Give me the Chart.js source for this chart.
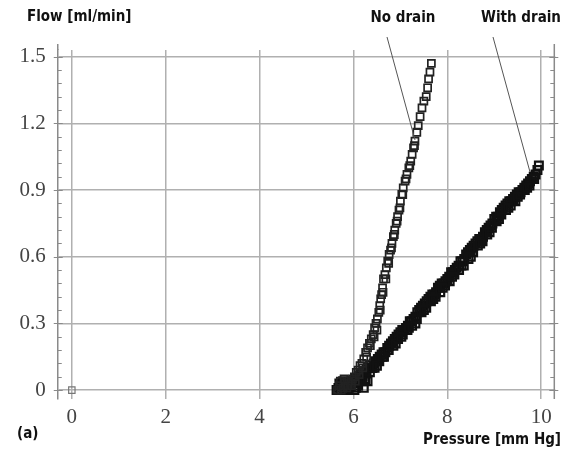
<!DOCTYPE html>
<html>
<head>
<meta charset="utf-8">
<script src="https://cdn.jsdelivr.net/npm/chart.js@4/dist/chart.umd.min.js"></script>
<style>
html,body{margin:0;padding:0;background:#fff;}
#wrap{width:563px;height:456px;position:relative;}
</style>
</head>
<body>
<div id="wrap"><canvas id="c" width="563" height="456"></canvas></div>
<script>
// ---- data ----
const xTicks = [0, 2, 4, 6, 8, 10];
const yTicks = [0, 0.3, 0.6, 0.9, 1.2, 1.5];
const yTickLabels = ['0', '0.3', '0.6', '0.9', '1.2', '1.5'];

const originX = [0];
const originY = [0];

const noDrainX = [5.66,5.7,5.74,5.78,5.82,5.86,5.9,5.94,5.98,6.02,6.06,6.1,6.14,6.18,6.22,6.26,6.3,6.34,6.38,6.42,6.45,6.48,6.51,6.54,6.56,6.58,6.6,6.62,6.64,6.67,6.7,6.73,6.76,6.79,6.82,6.85,6.88,6.91,6.94,6.97,7.0,7.03,7.06,7.1,7.14,7.18,7.22,7.25,7.28,7.31,7.35,7.38,7.42,7.46,7.5,7.55,7.58,7.6,7.63,7.66,
  5.72,5.8,5.88,5.96,6.04,6.12,6.2,6.28,6.36,6.44,6.5,6.57,6.63,6.69,6.75,6.81,6.87,6.93,6.99,7.05,7.12,7.2,7.3];
const noDrainY = [0.0,0.02,0.0,0.01,0.03,0.01,0.04,0.03,0.05,0.06,0.08,0.09,0.11,0.12,0.14,0.17,0.19,0.21,0.23,0.25,0.28,0.3,0.32,0.35,0.38,0.41,0.43,0.46,0.5,0.52,0.55,0.58,0.61,0.63,0.66,0.69,0.72,0.75,0.78,0.81,0.85,0.88,0.91,0.94,0.97,1.0,1.03,1.06,1.09,1.12,1.16,1.19,1.23,1.27,1.3,1.32,1.36,1.4,1.43,1.47,
  0.04,0.05,0.02,0.02,0.04,0.07,0.1,0.15,0.2,0.24,0.27,0.36,0.44,0.5,0.57,0.64,0.7,0.76,0.82,0.88,0.95,1.01,1.1];

const withDrainX = [5.64,5.68,5.72,5.76,5.8,5.84,5.88,5.92,5.96,6.0,6.04,6.08,6.12,6.16,6.2,6.24,6.28,6.32,6.36,6.4,6.44,6.48,6.52,6.56,6.6,6.64,6.68,6.72,6.76,6.8,6.84,6.88,6.92,6.96,7.0,7.04,7.08,7.12,7.16,7.2,7.24,7.28,7.32,7.36,7.4,7.44,7.48,7.52,7.56,7.6,7.64,7.68,7.72,7.76,7.8,7.84,7.88,7.92,7.96,8.0,8.04,8.08,8.12,8.16,8.2,8.24,8.28,8.32,8.36,8.4,8.44,8.48,8.52,8.56,8.6,8.64,8.68,8.72,8.76,8.8,8.84,8.88,8.92,8.96,9.0,9.04,9.08,9.12,9.16,9.2,9.24,9.28,9.32,9.36,9.4,9.44,9.48,9.52,9.56,9.6,9.64,9.68,9.72,9.76,9.8,9.84,9.88,9.92,9.95,
  5.75,5.85,5.95,6.05,6.15,6.25,6.35,6.45,6.55,6.65,6.75,6.85,6.95,7.05,7.15,7.25,7.35,7.45,7.55,7.65,7.75,7.85,7.95,8.05,8.15,8.25,8.35,8.45,8.55,8.65,8.75,8.85,8.95,9.05,9.15,9.25,9.35,9.45,9.55,9.65,9.75,9.85,
  5.7,5.78,5.9,6.02,6.1,6.22,6.3,6.18,6.4,6.5,6.62,6.74,6.9,7.02,7.18,7.32,7.5,7.7,7.9,8.1,8.3,8.5,8.7,8.9,9.1,9.3,9.5,9.7];
const withDrainY = [0.0,0.01,0.0,0.02,0.0,0.03,0.01,0.02,0.04,0.03,0.05,0.04,0.06,0.07,0.06,0.08,0.09,0.1,0.11,0.1,0.12,0.13,0.14,0.15,0.16,0.17,0.17,0.19,0.2,0.21,0.22,0.23,0.24,0.25,0.26,0.27,0.27,0.28,0.29,0.31,0.31,0.32,0.33,0.35,0.36,0.37,0.38,0.39,0.4,0.41,0.42,0.43,0.43,0.44,0.46,0.47,0.48,0.48,0.49,0.5,0.51,0.53,0.53,0.54,0.55,0.56,0.58,0.58,0.59,0.61,0.62,0.63,0.64,0.65,0.66,0.67,0.68,0.68,0.69,0.71,0.72,0.73,0.74,0.75,0.77,0.78,0.78,0.8,0.81,0.82,0.83,0.84,0.85,0.85,0.86,0.87,0.88,0.89,0.89,0.9,0.91,0.92,0.93,0.94,0.95,0.96,0.97,0.99,1.01,
  0.03,0.0,0.02,0.01,0.05,0.05,0.08,0.1,0.13,0.15,0.18,0.2,0.23,0.25,0.27,0.29,0.32,0.35,0.37,0.4,0.42,0.44,0.47,0.49,0.52,0.54,0.56,0.59,0.62,0.65,0.67,0.7,0.73,0.76,0.79,0.81,0.83,0.85,0.88,0.9,0.92,0.95,
  0.03,0.04,0.01,0.0,0.02,0.01,0.04,0.04,0.1,0.11,0.15,0.18,0.21,0.24,0.28,0.3,0.36,0.41,0.46,0.51,0.56,0.6,0.66,0.71,0.77,0.82,0.87,0.91];

function pts(xs, ys){ return xs.map((x,i)=>({x:x, y:ys[i]})); }

const frameColor = '#8a8a8a';
const gridColor = '#b0b0b0';

const decor = {
  id: 'decor',
  afterDraw(chart){
    const ctx = chart.ctx;
    const a = chart.chartArea;
    const ys = chart.scales.y;
    ctx.save();
    ctx.strokeStyle = frameColor;
    ctx.lineWidth = 1.5;
    ctx.beginPath();
    ctx.moveTo(a.right - 1, a.top - 6);
    ctx.lineTo(a.right - 1, a.bottom);
    ctx.stroke();
    ctx.beginPath();
    ctx.moveTo(a.left, a.top - 6);
    ctx.lineTo(a.left, a.top);
    ctx.stroke();
    ctx.lineWidth = 1;
    for (let v = 0; v <= 1.5001; v += 0.06) {
      const py = Math.round(ys.getPixelForValue(v)) + 0.5;
      const major = Math.abs(v / 0.3 - Math.round(v / 0.3)) < 1e-6;
      ctx.beginPath();
      if (major) {
        ctx.moveTo(a.left - 4, py); ctx.lineTo(a.left + 5, py);
        ctx.moveTo(a.right + 3, py); ctx.lineTo(a.right - 6, py);
      } else {
        ctx.moveTo(a.left, py); ctx.lineTo(a.left + 4, py);
        ctx.moveTo(a.right - 1, py); ctx.lineTo(a.right - 5, py);
      }
      ctx.stroke();
    }
    ctx.strokeStyle = '#555';
    ctx.lineWidth = 1;
    ctx.beginPath();
    ctx.moveTo(387, 37); ctx.lineTo(415, 140);
    ctx.moveTo(493, 37); ctx.lineTo(530, 172);
    ctx.stroke();
    ctx.fillStyle = '#111';
    ctx.textBaseline = 'middle';
    ctx.font = 'bold 15px "DejaVu Sans Condensed", "DejaVu Sans", sans-serif';
    ctx.textAlign = 'left';
    ctx.fillText('Flow [ml/min]', 27, 17);
    ctx.textAlign = 'center';
    ctx.fillText('No drain', 403, 18);
    ctx.fillText('With drain', 521, 18);
    ctx.textAlign = 'right';
    ctx.fillText('Pressure [mm Hg]', 561, 440);
    ctx.textAlign = 'left';
    ctx.fillText('(a)', 17, 434);
    ctx.restore();
  }
};

new Chart(document.getElementById('c'), {
  type: 'scatter',
  data: {
    datasets: [
      { label: 'origin', data: pts(originX, originY), pointStyle: 'rect', pointRadius: 4.5, borderColor: '#777', backgroundColor: 'rgba(0,0,0,0)', borderWidth: 1.2 },
      { label: 'No drain', data: pts(noDrainX, noDrainY), pointStyle: 'rect', pointRadius: 5, borderColor: '#222', backgroundColor: 'rgba(0,0,0,0)', borderWidth: 1.7 },
      { label: 'With drain', data: pts(withDrainX, withDrainY), pointStyle: 'rect', pointRadius: 5.5, borderColor: '#111', backgroundColor: 'rgba(0,0,0,0)', borderWidth: 2.2 }
    ]
  },
  options: {
    responsive: false,
    animation: false,
    devicePixelRatio: 1,
    layout: { padding: { top: 50, right: 2, left: 0, bottom: 0 } },
    plugins: { legend: { display: false }, tooltip: { enabled: false } },
    scales: {
      x: {
        type: 'linear', min: -0.3, max: 10.3,
        afterBuildTicks: s => { s.ticks = xTicks.map(v => ({ value: v })); },
        afterFit: s => { s.height = 57; },
        grid: { color: gridColor, lineWidth: 1.5, tickLength: 0, drawTicks: false },
        border: { display: false },
        ticks: { color: '#444', padding: 6, font: { family: '"Liberation Serif", serif', size: 21 } }
      },
      y: {
        type: 'linear', min: -0.04, max: 1.53,
        afterBuildTicks: s => { s.ticks = yTicks.map(v => ({ value: v })); },
        afterFit: s => { s.width = 57.75; },
        grid: { color: gridColor, lineWidth: 1.5, tickLength: 0, drawTicks: false },
        border: { display: true, color: frameColor, width: 1.5 },
        ticks: {
          color: '#444', padding: 12, font: { family: '"Liberation Serif", serif', size: 21 },
          callback: (v) => { const i = yTicks.findIndex(t => Math.abs(t - v) < 1e-9); return i >= 0 ? yTickLabels[i] : ''; }
        }
      }
    }
  },
  plugins: [decor]
});
</script>
</body>
</html>
